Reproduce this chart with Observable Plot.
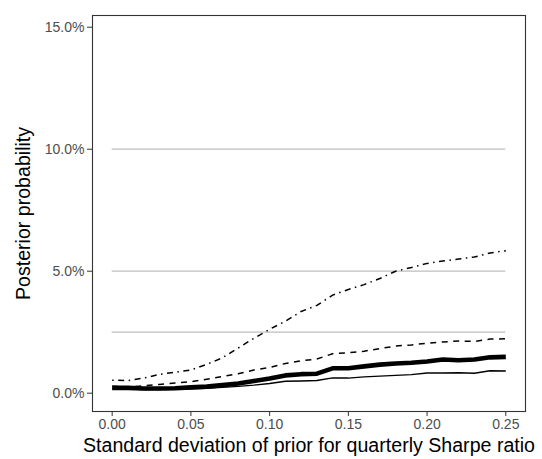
<!DOCTYPE html>
<html>
<head>
<meta charset="utf-8">
<script src="https://cdn.jsdelivr.net/npm/d3@7"></script>
<script src="https://cdn.jsdelivr.net/npm/@observablehq/plot@0.6"></script>
<style>
  html, body { margin: 0; padding: 0; background: #fff; }
  #chart { width: 542px; height: 459px; }
</style>
</head>
<body>
<div id="chart"></div>
<script>
// Standard deviation of prior (x)
const sd = [0.00,0.01,0.02,0.03,0.04,0.05,0.06,0.07,0.08,0.09,0.10,0.11,0.12,0.13,0.14,0.15,0.16,0.17,0.18,0.19,0.20,0.21,0.22,0.23,0.24,0.25];
// Posterior probability series (in %)
const dotdash = [0.53,0.52,0.62,0.77,0.86,0.95,1.18,1.45,1.85,2.25,2.62,2.95,3.35,3.60,4.02,4.25,4.45,4.70,5.00,5.15,5.32,5.42,5.50,5.58,5.75,5.84];
const dashed  = [0.28,0.26,0.30,0.36,0.42,0.47,0.57,0.68,0.80,0.95,1.05,1.22,1.33,1.40,1.62,1.66,1.72,1.83,1.93,1.98,2.05,2.10,2.14,2.12,2.22,2.23];
const thick   = [0.22,0.22,0.19,0.19,0.20,0.24,0.27,0.33,0.40,0.50,0.60,0.73,0.78,0.80,1.02,1.02,1.10,1.17,1.22,1.25,1.30,1.38,1.35,1.38,1.47,1.49];
const thin    = [0.18,0.17,0.15,0.15,0.16,0.18,0.20,0.24,0.28,0.33,0.40,0.49,0.50,0.52,0.63,0.62,0.67,0.70,0.73,0.76,0.83,0.83,0.84,0.82,0.92,0.91];
const gridValues = [0.025, 0.05, 0.10];
const yTicks = [0, 0.05, 0.10, 0.15];
const xTicks = [0, 0.05, 0.10, 0.15, 0.20, 0.25];
const xTitle = "Standard deviation of prior for quarterly Sharpe ratio";
const yTitle = "Posterior probability";

const toRows = (vals) => sd.map((x, i) => ({x, y: vals[i] / 100}));

const common = {x: "x", y: "y", stroke: "black", strokeLinecap: "butt", strokeLinejoin: "round"};

const chart = Plot.plot({
  width: 542,
  height: 459,
  marginLeft: 92,
  marginRight: 17,
  marginTop: 15,
  marginBottom: 48,
  style: {fontFamily: "'Liberation Sans', Arial, Helvetica, sans-serif", background: "#fff"},
  x: {domain: [-0.0125, 0.2625]},
  y: {domain: [-0.0075, 0.1548]},
  marks: [
    Plot.ruleY(gridValues, {y: d => d, x1: 0, x2: 0.25, stroke: "#bebebe", strokeWidth: 1.3}),
    Plot.line(toRows(thin), {...common, strokeWidth: 1.4}),
    Plot.line(toRows(thick), {...common, strokeWidth: 4.6}),
    Plot.line(toRows(dashed), {...common, strokeWidth: 1.5, strokeDasharray: "6,5.5"}),
    Plot.line(toRows(dotdash), {...common, strokeWidth: 1.5, strokeDasharray: "1.5,4.5,6,4.5"}),
    Plot.frame({stroke: "#333", strokeWidth: 1.1}),
    Plot.axisY(yTicks, {tickFormat: d3.format(".1%"), tickSize: 5, tickPadding: 3, fontSize: 14, color: "#4d4d4d", stroke: "#333", label: null}),
    Plot.axisX(xTicks, {tickFormat: d3.format(".2f"), tickSize: 5, tickPadding: 3, fontSize: 14, color: "#4d4d4d", stroke: "#333", label: null}),
    Plot.text([xTitle], {frameAnchor: "bottom", text: d => d, dy: 34, fontSize: 19.6, fill: "black", lineAnchor: "middle", textAnchor: "middle"}),
    Plot.text([yTitle], {frameAnchor: "left", text: d => d, dx: -69, rotate: -90, fontSize: 19.6, fill: "black", lineAnchor: "middle", textAnchor: "middle"})
  ]
});
document.getElementById("chart").appendChild(chart);
</script>
</body>
</html>
